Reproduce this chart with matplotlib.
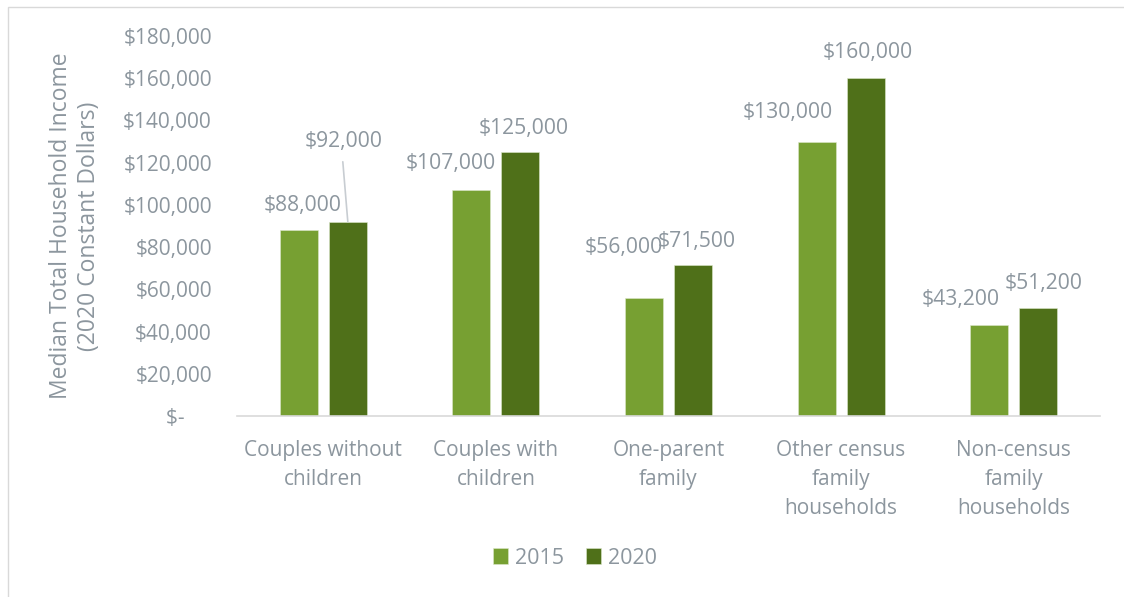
import matplotlib
matplotlib.use("Agg")
import matplotlib.pyplot as plt
import numpy as np
from matplotlib.patches import Rectangle

categories = ["Couples without\nchildren", "Couples with\nchildren", "One-parent\nfamily",
              "Other census\nfamily\nhouseholds", "Non-census\nfamily\nhouseholds"]
series_names = ["2015", "2020"]
values_2015 = [88000, 107000, 56000, 130000, 43200]
values_2020 = [92000, 125000, 71500, 160000, 51200]
ytick_values = [0, 20000, 40000, 60000, 80000, 100000, 120000, 140000, 160000, 180000]
ytick_labels = ["$-     ", "$20,000", "$40,000", "$60,000", "$80,000", "$100,000",
                "$120,000", "$140,000", "$160,000", "$180,000"]

# label offsets in pixels (dx, dy) from bar top
offs_2015 = [(4, 25), (-21, 27), (-20, 50), (-29, 29), (-29, 25)]
offs_2020 = [(-4, 80), (3, 24), (4, 24), (2, 26), (5, 24)]

c2015 = "#77A032"
c2020 = "#4F7019"
tcol = "#8C969E"
plt.rcParams['font.family'] = ['Open Sans', 'DejaVu Sans']
fs = 15

fig = plt.figure(figsize=(11.24, 5.97), dpi=100)
W, H = 1124, 597
ax = fig.add_axes([237 / W, 1 - 416 / H, (1100 - 237) / W, (416 - 36) / H])

x = np.arange(len(categories))
bw = 0.22
off = 0.142
b1 = ax.bar(x - off, values_2015, bw, color=c2015, label=series_names[0], edgecolor="#DDE8CC", linewidth=0.4)
b2 = ax.bar(x + off, values_2020, bw, color=c2020, label=series_names[1], edgecolor="#DDE8CC", linewidth=0.4)

for bars, vals, offs in [(b1, values_2015, offs_2015), (b2, values_2020, offs_2020)]:
    for b, v, (dx, dy) in zip(bars, vals, offs):
        cx = b.get_x() + b.get_width() / 2
        ax.annotate(f"${v:,.0f}", (cx, v), xytext=(dx, dy), textcoords="offset pixels",
                    ha="center", va="center", color=tcol, fontsize=15.2)

# leader line for the 2020 couples-without-children label
b = b2[0]
cx = b.get_x() + b.get_width() / 2
ax.annotate("", (cx, values_2020[0]), xytext=(-5, 60), textcoords="offset pixels",
            arrowprops=dict(arrowstyle="-", color="#C8CDD2", lw=1.2, shrinkA=0, shrinkB=0))

ax.set_xlim(-0.5, len(categories) - 0.5)
ax.set_ylim(0, 180000)
ax.set_yticks(ytick_values)
ax.set_yticklabels(ytick_labels)
ax.set_xticks(x)
ax.set_xticklabels(categories, linespacing=1.52)
ax.tick_params(axis="y", length=0, pad=18, labelsize=fs, labelcolor=tcol)
ax.tick_params(axis="x", length=0, pad=17, labelsize=fs, labelcolor=tcol)
for s in ["top", "right", "left"]:
    ax.spines[s].set_visible(False)
ax.spines["bottom"].set_color("#D9D9D9")
ax.spines["bottom"].set_linewidth(1.2)

fig.text(75 / W, 1 - 226 / H, "Median Total Household Income\n(2020 Constant Dollars)",
         rotation=90, ha="center", va="center", color=tcol, fontsize=16.5, linespacing=1.25)

leg = fig.legend(handles=[b1, b2], labels=series_names, loc="center", bbox_to_anchor=(575 / W, 1 - 558 / H),
                 ncol=2, frameon=False, fontsize=15.5, handlelength=0.7, handleheight=0.7,
                 handletextpad=0.35, columnspacing=1.0)
for t in leg.get_texts():
    t.set_color(tcol)

fig.patches.append(Rectangle((8 / W, -0.05), 1.2, 1 - 7 / H + 0.05, transform=fig.transFigure,
                             fill=False, edgecolor="#D9D9D9", linewidth=1.0))

fig.savefig("out.png", dpi=100)
